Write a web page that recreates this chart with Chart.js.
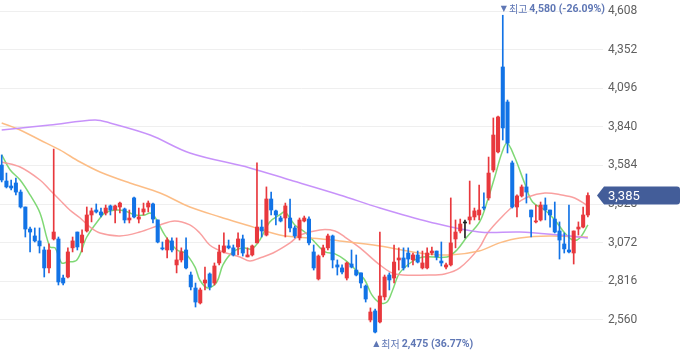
<!DOCTYPE html>
<html>
<head>
<meta charset="utf-8">
<script src="https://cdn.jsdelivr.net/npm/chart.js@4"></script>
<style>
  html, body { margin: 0; padding: 0; background: #fff; }
  #wrap { width: 680px; height: 358px; position: relative; }
</style>
</head>
<body>
<div id="wrap"><canvas id="priceChart"></canvas></div>
<script>
// daily candles, oldest -> newest
const opens = [3587,3481,3448,3468,3408,3309,3163,3117,3084,3024,
  2905,3097,3097,2838,2845,3038,3143,3071,3150,3256,
  3289,3276,3269,3316,3289,3309,3296,3223,3369,3229,
  3276,3309,3329,3223,3038,3024,3084,2925,2958,3024,
  2858,2772,2673,2805,2865,2805,2938,3011,3051,3038,
  3044,3097,2978,2991,3071,3176,3123,3362,3283,3236,
  3236,3236,3170,3104,3216,3229,3011,2832,2991,3038,
  3117,2925,2905,2838,2931,2891,2872,2785,2560,2620,
  2547,2713,2858,2838,2958,2971,3004,2958,2991,2905,
  2905,3004,3017,2951,2911,2925,3097,3150,3203,3223,
  3243,3256,3309,3369,3554,3674,4237,4005,3601,3309,
  3382,3442,3289,3210,3223,3322,3289,3229,3150,3064,
  3024,3004,3163,3176,3256];
const highs = [3654,3534,3488,3501,3422,3309,3176,3170,3170,3044,
  3064,3693,3110,2858,3038,3110,3143,3157,3309,3302,
  3329,3302,3322,3322,3322,3342,3302,3289,3375,3302,
  3335,3349,3335,3223,3077,3104,3104,3104,3038,3104,
  2878,2805,2772,2911,2872,2938,3057,3137,3090,3057,
  3137,3123,3038,3057,3601,3223,3442,3408,3289,3249,
  3335,3362,3183,3236,3249,3243,3057,2991,3057,3130,
  3123,2958,2925,2944,3024,2991,2872,2792,2640,2633,
  3143,2858,2872,3057,3038,3038,3038,3004,3017,3017,
  3038,3044,3017,3077,2938,3369,3223,3229,3223,3481,
  3302,3455,3402,3640,3899,3912,4580,4018,3614,3389,
  3455,3528,3289,3322,3342,3369,3289,3342,3210,3137,
  3322,3150,3210,3309,3402];
const lows = [3475,3435,3422,3389,3302,3110,3011,3077,3004,2845,
  2872,3090,2792,2792,2838,3011,3024,3011,3143,3210,
  3269,3243,3256,3256,3203,3269,3203,3203,3236,3203,
  3256,3276,3203,3071,3024,2971,3011,2872,2944,2898,
  2759,2646,2666,2759,2759,2792,2925,3004,3031,2984,
  2991,2984,2978,2984,3071,3110,3117,3256,3190,3210,
  3110,3143,3104,3090,3210,3057,2891,2825,2978,3024,
  2905,2858,2865,2825,2905,2852,2772,2679,2547,2475,
  2540,2693,2759,2805,2891,2891,2911,2925,2938,2898,
  2898,2991,2958,2918,2898,2918,3038,3137,3104,3196,
  3223,3223,3289,3355,3541,3667,3753,3667,3302,3243,
  3375,3335,3110,3203,3216,3223,3176,3137,2964,3004,
  3004,2931,3123,3170,3243];
const closes = [3488,3442,3435,3408,3309,3163,3143,3084,3051,2905,
  3024,3143,2812,2805,3011,3084,3044,3123,3256,3283,
  3276,3256,3302,3289,3316,3335,3223,3236,3243,3243,
  3296,3335,3229,3077,3031,3090,3024,2958,3011,2905,
  2779,2679,2759,2825,2779,2918,3011,3051,3038,2991,
  3097,3004,2991,3051,3176,3150,3362,3289,3256,3216,
  3316,3170,3117,3223,3236,3071,2905,2984,3038,3117,
  2958,2911,2878,2938,2911,2858,2805,2699,2613,2480,
  2719,2845,2825,2944,2971,2905,2964,2991,2944,2938,
  3004,3017,2978,2938,2925,3071,3143,3196,3203,3243,
  3283,3289,3302,3534,3786,3906,3833,3733,3309,3382,
  3442,3408,3243,3216,3322,3289,3256,3143,3090,3031,
  3011,3150,3176,3256,3385];

// moving averages: [candle position, price]
const ma5 = [[0,3654],[1.8,3554],[3.9,3488],[6,3389],[8.1,3269],[10.2,3044],[11.3,3038],[12.7,2938],
  [13.8,2944],[15.9,2958],[18,3110],[20.8,3236],[21.8,3269],[24,3289],[26.1,3283],[28.2,3256],
  [30.3,3256],[31.4,3269],[32.4,3243],[34.5,3123],[37.1,3024],[38.8,3004],[40.9,2911],[41.9,2825],
  [43.6,2772],[45.5,2812],[46.8,2925],[48.9,3011],[51,3038],[52.9,3031],[54.6,3090],[56.7,3210],
  [58.8,3256],[59.9,3276],[62,3190],[64.1,3143],[66.2,3077],[68.4,3011],[70.5,2998],[72.6,2958],
  [74.7,2898],[76.8,2825],[78.3,2726],[80,2673],[81.5,2679],[82.7,2759],[84.2,2872],[87,2951],
  [89.1,2978],[94.2,2978],[96.3,3024],[98.4,3110],[101.1,3210],[102.8,3355],[104.3,3508],
  [105.8,3667],[106.9,3733],[108.5,3640],[110.6,3468],[112.3,3342],[114.9,3289],[117,3223],
  [119.1,3137],[120.8,3090],[122.3,3104],[124,3190]];
const ma20 = [[0,3607],[3.9,3574],[8.1,3488],[10.2,3422],[12.3,3355],[14.4,3289],[16.6,3236],
  [18.7,3176],[20.8,3137],[25,3117],[29.2,3143],[33.5,3190],[36.6,3216],[39.8,3190],[41.9,3137],
  [44,3057],[46.8,3011],[50.4,2978],[52.5,2951],[54.6,2971],[57.4,3004],[61,3071],[63.1,3123],
  [67.3,3157],[70.5,3150],[72.6,3110],[75.8,3038],[80,2925],[83.2,2865],[90.5,2858],[93.7,2865],
  [96.9,2905],[101,3038],[102.8,3137],[105.8,3243],[108.5,3322],[111.3,3375],[114.9,3402],
  [118.5,3389],[121.2,3369],[123.7,3322]];
const ma60 = [[0,3866],[3.9,3819],[8.1,3753],[12.3,3687],[16.6,3607],[20.8,3541],[27.1,3468],
  [33.5,3402],[39.8,3309],[46.2,3243],[52.5,3183],[58.8,3123],[65.2,3104],[71.5,3084],[80,3051],
  [88.4,3004],[94.8,2991],[101,3017],[105.3,3071],[109.6,3104],[115.9,3117],[124,3110]];
const ma120 = [[0,3819],[10.2,3852],[19.7,3886],[22.9,3866],[31.4,3786],[39.8,3667],[52.5,3568],
  [61,3488],[71.5,3389],[80,3302],[90.5,3210],[101,3143],[109.6,3143],[118,3123],[124,3104]];

const yTicks = [2560, 2816, 3072, 3328, 3584, 3840, 4096, 4352, 4608];

const upColor = '#e8383d';
const downColor = '#1273e6';
const flatColor = '#222222';

function candleColor(i) {
  if (closes[i] > opens[i]) return upColor;
  if (closes[i] < opens[i]) return downColor;
  return flatColor;
}

const colors = closes.map((c, i) => candleColor(i));
const wickData = closes.map((c, i) => ({ x: i, y: [lows[i], highs[i]] }));
const bodyData = closes.map((c, i) => ({ x: i, y: [opens[i], closes[i]] }));

function maLine(points, color, width) {
  return {
    type: 'line',
    data: points.map(p => ({ x: p[0], y: p[1] })),
    borderColor: color,
    borderWidth: width,
    pointRadius: 0,
    tension: 0.35,
    order: 2
  };
}

function fmt(v) {
  return v.toLocaleString('en-US');
}

function drawMarker(ctx, x, y, arrow, word, value, pct) {
  ctx.save();
  ctx.textBaseline = 'middle';
  ctx.textAlign = 'left';
  ctx.fillStyle = '#5f77b5';
  ctx.font = '8px "DejaVu Sans"';
  ctx.fillText(arrow, x, y);
  let cx = x + ctx.measureText(arrow).width + 2;
  ctx.font = '10px "Noto Sans CJK KR"';
  ctx.fillText(word, cx, y);
  cx += ctx.measureText(word).width + 2;
  ctx.font = 'bold 10.5px Roboto';
  ctx.fillText(value + ' (' + pct + '%)', cx, y + 0.5);
  ctx.restore();
}

const overlayPlugin = {
  id: 'overlay',
  afterDraw(chart) {
    const ctx = chart.ctx;
    const xs = chart.scales.x;
    const ys = chart.scales.y;
    const area = chart.chartArea;
    const last = closes[closes.length - 1];

    // high / low markers
    const hi = Math.max(...highs);
    const lo = Math.min(...lows);
    const hiIdx = highs.indexOf(hi);
    const loIdx = lows.indexOf(lo);
    const hiPct = ((last - hi) / hi * 100).toFixed(2);
    const loPct = ((last - lo) / lo * 100).toFixed(2);
    drawMarker(ctx, xs.getPixelForValue(hiIdx) - 2, ys.getPixelForValue(hi) - 6, '▼', '최고', fmt(hi), hiPct);
    drawMarker(ctx, xs.getPixelForValue(loIdx) - 2, ys.getPixelForValue(lo) + 11, '▲', '최저', fmt(lo), loPct);

    // last price tag
    const py = ys.getPixelForValue(last);
    const left = area.right + 1;
    const right = chart.width;
    const h = 9;
    ctx.save();
    ctx.fillStyle = '#435d99';
    ctx.beginPath();
    ctx.moveTo(left - 7, py);
    ctx.lineTo(left, py - h);
    ctx.lineTo(right - 3, py - h);
    ctx.quadraticCurveTo(right, py - h, right, py - h + 3);
    ctx.lineTo(right, py + h - 3);
    ctx.quadraticCurveTo(right, py + h, right - 3, py + h);
    ctx.lineTo(left, py + h);
    ctx.closePath();
    ctx.fill();
    ctx.fillStyle = '#ffffff';
    ctx.font = '13px Roboto';
    ctx.textBaseline = 'middle';
    ctx.textAlign = 'left';
    ctx.fillText(fmt(last), left + 4, py + 1);
    ctx.restore();
  }
};

const ctx = document.getElementById('priceChart').getContext('2d');
new Chart(ctx, {
  type: 'bar',
  data: {
    datasets: [
      {
        data: bodyData,
        backgroundColor: colors,
        barThickness: 3.4,
        minBarLength: 1,
        grouped: false,
        borderWidth: 0,
        order: 0
      },
      {
        data: wickData,
        backgroundColor: colors,
        barThickness: 1,
        grouped: false,
        borderWidth: 0,
        order: 1
      },
      maLine(ma120, 'rgba(196, 140, 250, 0.95)', 1.5),
      maLine(ma60, 'rgba(252, 185, 128, 0.95)', 1.5),
      maLine(ma20, 'rgba(248, 150, 150, 0.9)', 1.5),
      maLine(ma5, 'rgba(120, 214, 110, 0.95)', 1.5)
    ]
  },
  options: {
    responsive: true,
    maintainAspectRatio: false,
    animation: false,
    events: [],
    layout: { padding: 0 },
    plugins: {
      legend: { display: false },
      tooltip: { enabled: false }
    },
    scales: {
      x: {
        type: 'linear',
        display: false,
        offset: false,
        min: -0.36,
        max: 127.2
      },
      y: {
        type: 'linear',
        position: 'right',
        min: 2308,
        max: 4681,
        afterBuildTicks: scale => {
          scale.ticks = yTicks.map(v => ({ value: v }));
        },
        afterFit: scale => {
          scale.width = 77;
          scale.paddingTop = 0;
          scale.paddingBottom = 0;
        },
        border: { display: false },
        grid: { color: '#efefef', drawTicks: false },
        ticks: {
          padding: 5,
          color: '#5f5f5f',
          font: { family: 'Roboto', size: 12 },
          callback: v => fmt(v)
        }
      }
    }
  },
  plugins: [overlayPlugin]
});
</script>
</body>
</html>
